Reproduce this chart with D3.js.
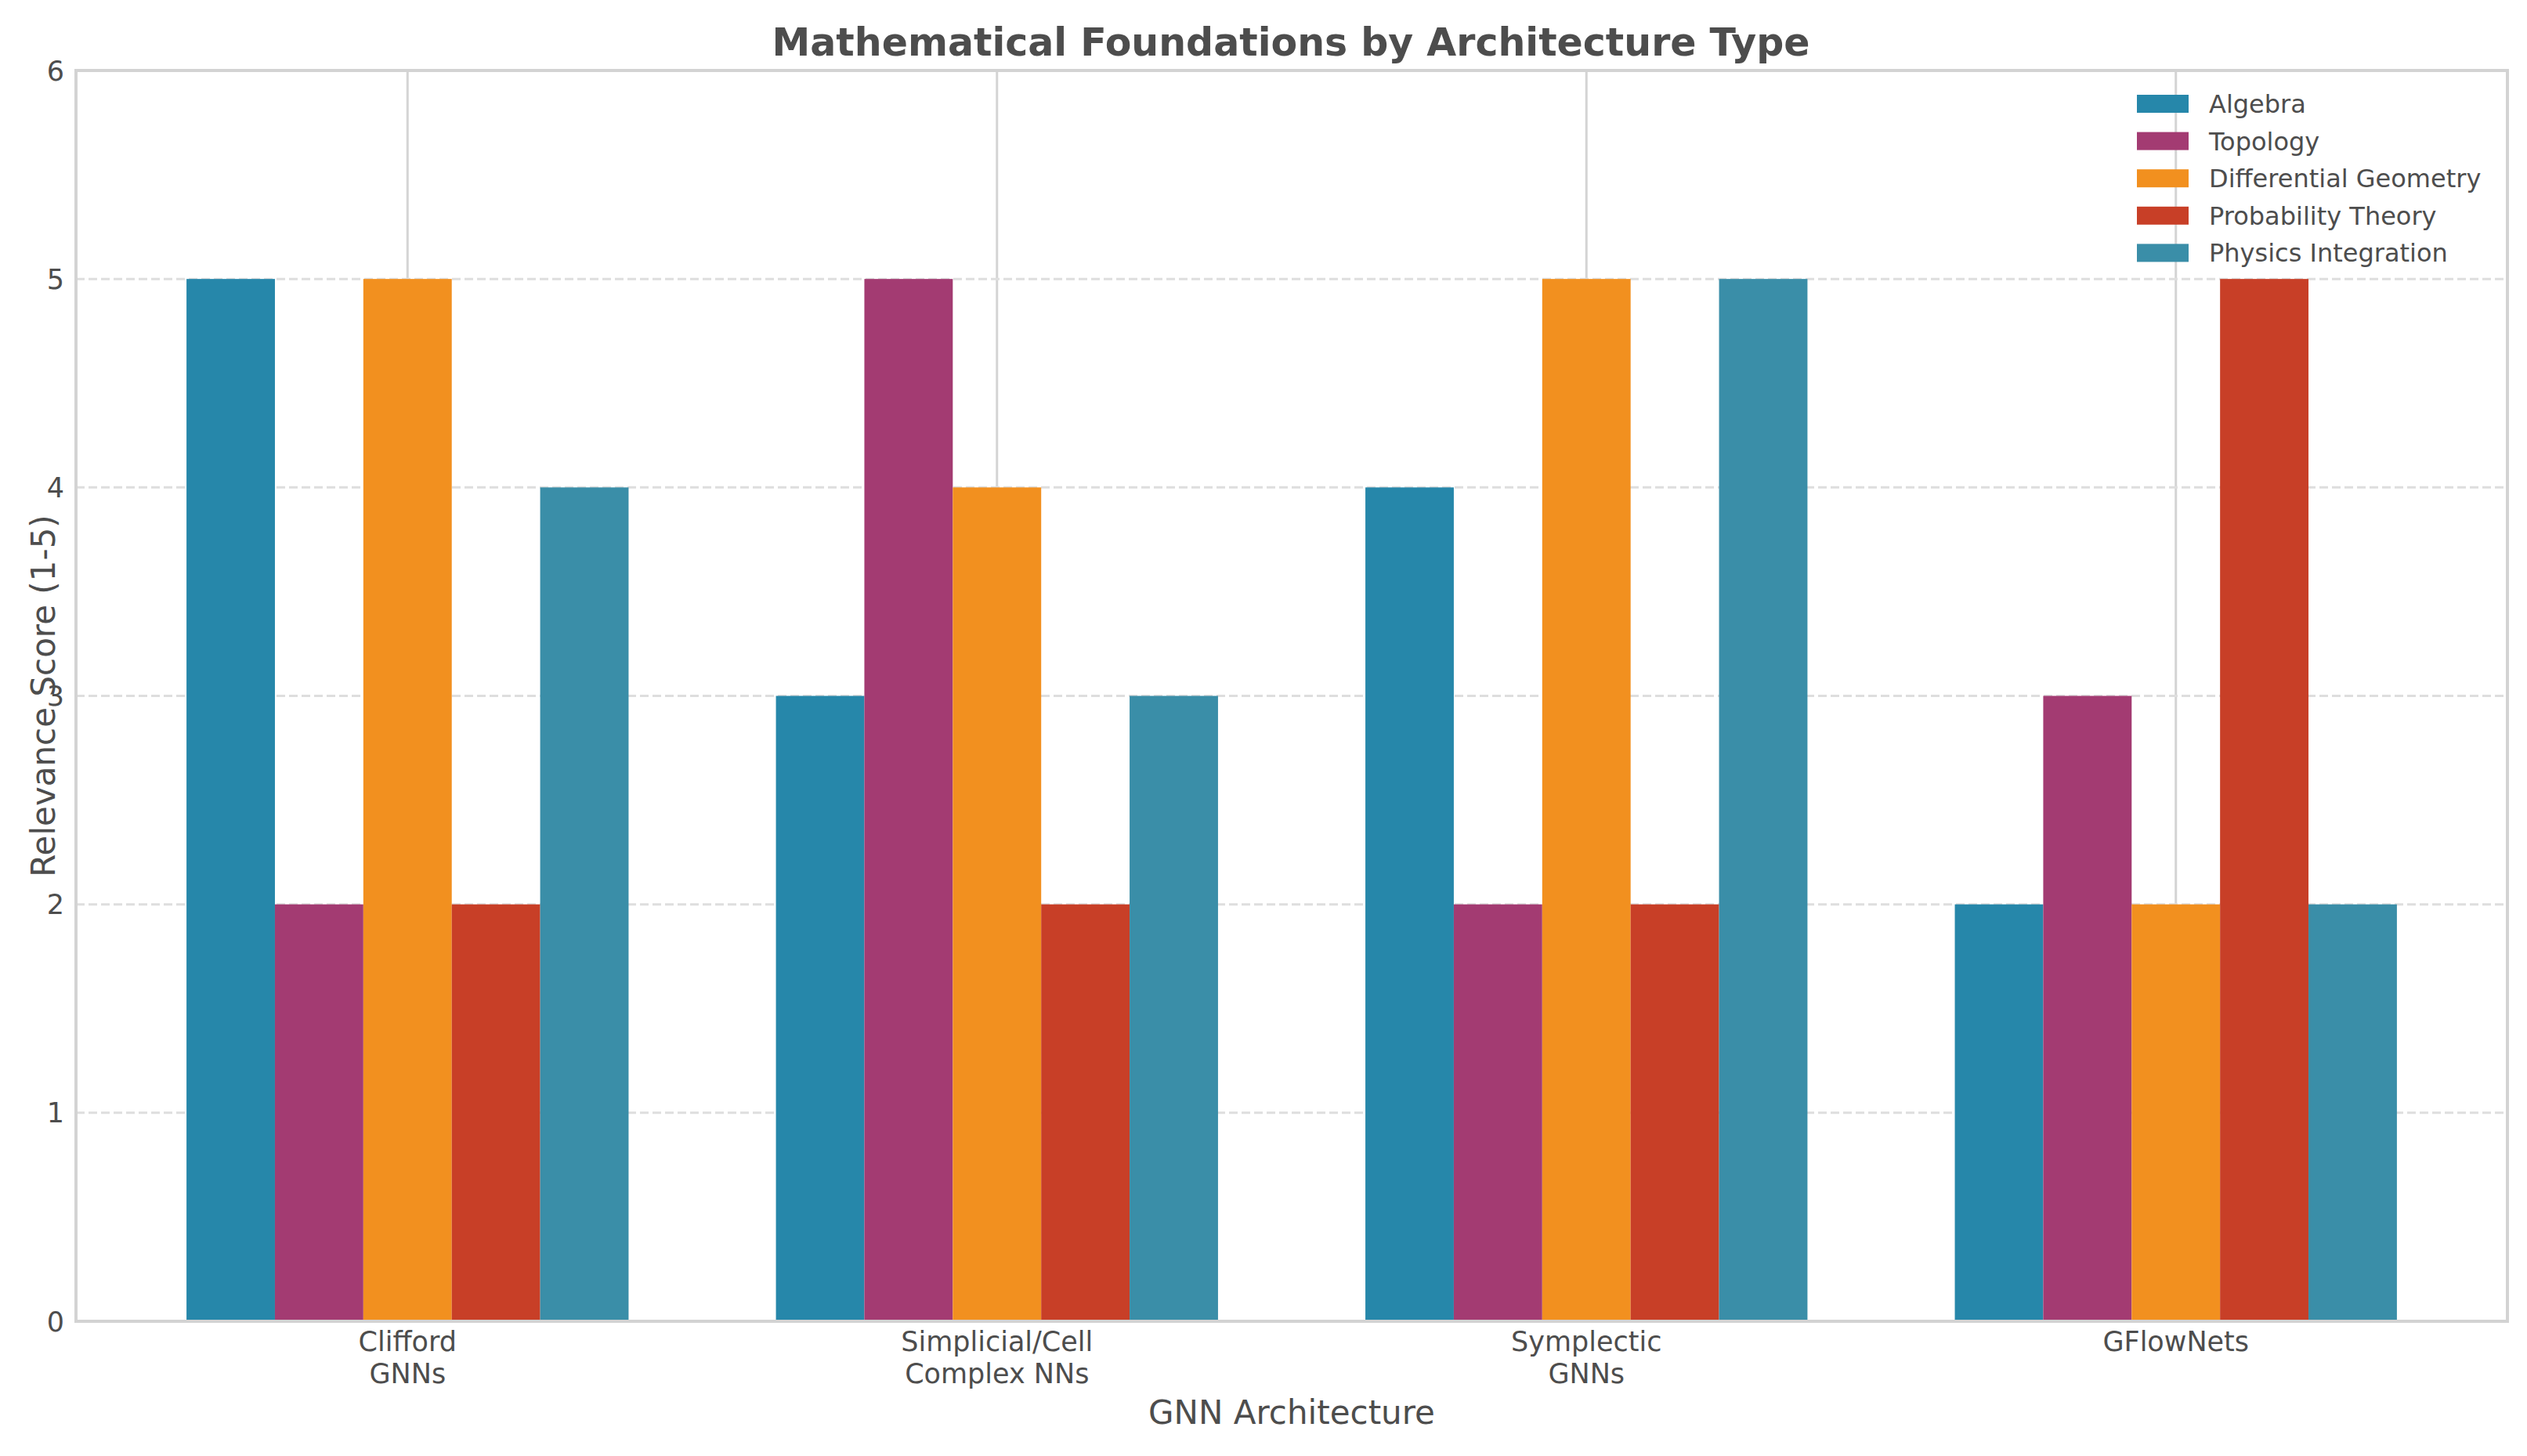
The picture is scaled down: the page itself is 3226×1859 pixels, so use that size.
<!DOCTYPE html>
<html>
<head>
<meta charset="utf-8">
<script src="https://cdn.jsdelivr.net/npm/d3@7"></script>
<style>
  body { margin: 0; background: #fff; }
  text { font-family: "DejaVu Sans", sans-serif; fill: #4d4d4d; }
</style>
</head>
<body>
<script>
// data
const architectures = [["Clifford", "GNNs"], ["Simplicial/Cell", "Complex NNs"], ["Symplectic", "GNNs"], ["GFlowNets"]];
const foundations = ["Algebra", "Topology", "Differential Geometry", "Probability Theory", "Physics Integration"];
const colors = ["#2687aa", "#a33b72", "#f2901f", "#c83f27", "#3a8ea8"];
const algebra = [5, 3, 4, 2];
const topology = [2, 5, 2, 3];
const diffGeometry = [5, 4, 5, 2];
const probability = [2, 2, 2, 5];
const physics = [4, 3, 5, 2];
const yTicks = [0, 1, 2, 3, 4, 5, 6];

const series = [algebra, topology, diffGeometry, probability, physics];

const W = 3226, H = 1859;
const margin = { top: 90, right: 25, bottom: 172, left: 97 };
const barW = 0.15;

const svg = d3.select("body").append("svg")
    .attr("width", W)
    .attr("height", H);

// x : group index, with matplotlib style padding
const x = d3.scaleLinear()
    .domain([-0.5625, 3.5625])
    .range([margin.left, W - margin.right]);

const y = d3.scaleLinear()
    .domain([0, 6])
    .range([H - margin.bottom, margin.top]);

// grid (behind the bars)
svg.append("g").selectAll("line")
    .data(architectures)
    .enter()
    .append("line")
    .attr("x1", (d, i) => x(i)).attr("x2", (d, i) => x(i))
    .attr("y1", y(0)).attr("y2", y(6))
    .attr("stroke", "#d4d4d4")
    .attr("stroke-width", 3);

svg.append("g").selectAll("line")
    .data(yTicks.slice(1, -1))
    .enter()
    .append("line")
    .attr("x1", x.range()[0]).attr("x2", x.range()[1])
    .attr("y1", d => y(d)).attr("y2", d => y(d))
    .attr("stroke", "#dedede")
    .attr("stroke-width", 3)
    .attr("stroke-dasharray", "11,5");

// bars
series.forEach((vals, s) => {
    svg.append("g").selectAll("rect")
        .data(vals)
        .enter()
        .append("rect")
        .attr("x", (d, i) => x(i + (s - 2.5) * barW))
        .attr("y", d => y(d))
        .attr("width", x(barW) - x(0))
        .attr("height", d => y(0) - y(d))
        .attr("fill", colors[s]);
});

// frame
svg.append("rect")
    .attr("x", x.range()[0]).attr("y", y(6))
    .attr("width", x.range()[1] - x.range()[0])
    .attr("height", y(0) - y(6))
    .attr("fill", "none")
    .attr("stroke", "#d3d3d3")
    .attr("stroke-width", 4);

// y tick labels
svg.append("g").selectAll("text")
    .data(yTicks)
    .enter()
    .append("text")
    .attr("x", margin.left - 15)
    .attr("y", d => y(d))
    .attr("dy", "0.36em")
    .attr("text-anchor", "end")
    .style("font-size", "35px")
    .text(d => d);

// x tick labels (multi line)
const xl = svg.append("g").selectAll("text")
    .data(architectures)
    .enter()
    .append("text")
    .attr("text-anchor", "middle")
    .style("font-size", "35px");
xl.selectAll("tspan")
    .data((d, i) => d.map(t => ({ t, i })))
    .enter()
    .append("tspan")
    .attr("x", d => x(d.i))
    .attr("y", (d, j) => 1725 + j * 41)
    .text(d => d.t);

// axis titles
svg.append("text")
    .attr("x", (x.range()[0] + x.range()[1]) / 2)
    .attr("y", 1818)
    .attr("text-anchor", "middle")
    .style("font-size", "42px")
    .text("GNN Architecture");

svg.append("text")
    .attr("transform", `translate(70, ${(y(0) + y(6)) / 2}) rotate(-90)`)
    .attr("text-anchor", "middle")
    .style("font-size", "42px")
    .text("Relevance Score (1-5)");

svg.append("text")
    .attr("x", 1648)
    .attr("y", 71)
    .attr("text-anchor", "middle")
    .style("font-size", "49px")
    .style("font-weight", "bold")
    .text("Mathematical Foundations by Architecture Type");

// legend
const legend = svg.append("g").selectAll("g")
    .data(foundations)
    .enter()
    .append("g")
    .attr("transform", (d, i) => `translate(2728, ${132.5 + i * 47.6})`);
legend.append("rect")
    .attr("x", 0).attr("y", -11.5)
    .attr("width", 66).attr("height", 23)
    .attr("fill", (d, i) => colors[i]);
legend.append("text")
    .attr("x", 92)
    .attr("dy", "0.36em")
    .style("font-size", "32px")
    .text(d => d);
</script>
</body>
</html>
